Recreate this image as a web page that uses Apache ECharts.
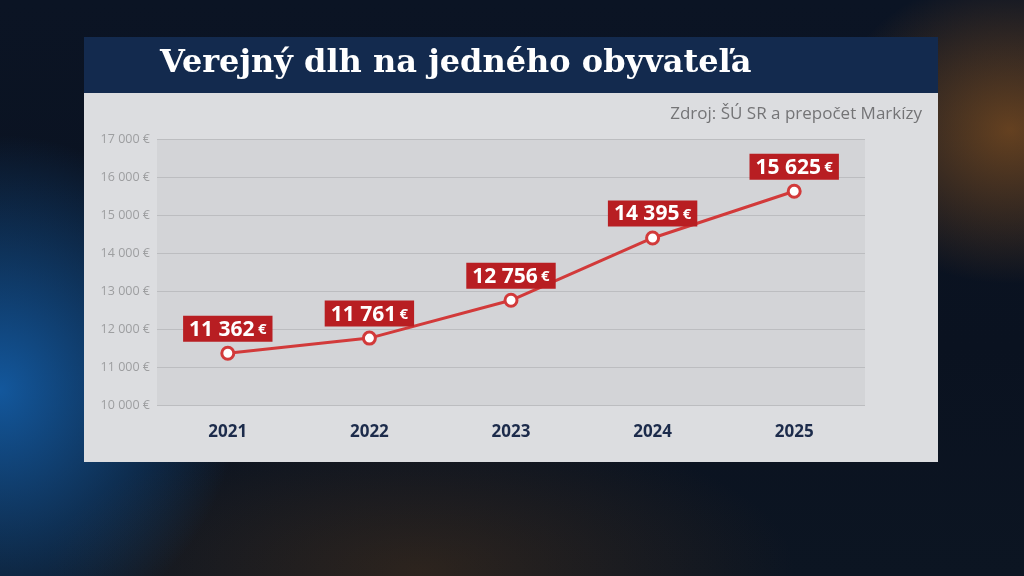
<!DOCTYPE html>
<html>
<head>
<meta charset="utf-8">
<script src="https://cdn.jsdelivr.net/npm/echarts@6/dist/echarts.min.js"></script>
<style>
html,body{margin:0;padding:0;width:1024px;height:576px;overflow:hidden;}
body{background:
 radial-gradient(ellipse 260px 220px at 1010px 130px, rgba(190,110,30,0.5), rgba(190,110,30,0) 70%),
 radial-gradient(ellipse 320px 340px at 0px 390px, rgba(20,95,170,0.9), rgba(20,90,160,0) 75%),
 radial-gradient(ellipse 500px 200px at 420px 570px, rgba(120,70,20,0.3), rgba(120,70,20,0) 75%),
 linear-gradient(180deg,#0b1424 0%,#0a1220 60%,#0c1522 100%);}
#c{width:1024px;height:576px;}
</style>
</head>
<body>
<div id="c"></div>
<script>
const years = ['2021','2022','2023','2024','2025'];
const debtPerCapita = [11362, 11761, 12756, 14395, 15625];
const yMin = 10000, yMax = 17000, yStep = 1000;
const titleText = 'Verejný dlh na jedného obyvateľa';
const sourceText = 'Zdroj: ŠÚ SR a prepočet Markízy';

function fmt(v){ return String(v).replace(/\B(?=(\d{3})+(?!\d))/g,' '); }

const chart = echarts.init(document.getElementById('c'), null, {renderer:'canvas'});
chart.setOption({
  backgroundColor:'transparent',
  animation:false,
  graphic:[
    {type:'rect', z:-10, shape:{x:84,y:93,width:854,height:369}, style:{fill:'#dcdde0'}},
    {type:'rect', z:-10, shape:{x:84,y:37,width:854,height:56}, style:{fill:'#132a4e'}},
    {type:'text', z:5, left:160, top:48, style:{text:titleText, fill:'#ffffff', font:'bold 32px "DejaVu Serif", serif'}},
    {type:'text', z:5, right:1024-922, top:106, style:{text:sourceText, fill:'#747476', font:'17px "Open Sans", sans-serif'}}
  ],
  grid:{left:157, right:159, top:139, bottom:171, show:true, backgroundColor:'#d3d4d7', borderWidth:0},
  xAxis:{
    type:'category', data:years, boundaryGap:true,
    axisLine:{show:false}, axisTick:{show:false},
    axisLabel:{color:'#1c2b4b', fontSize:17, fontWeight:'bold', fontFamily:'"Open Sans", sans-serif', margin:19}
  },
  yAxis:{
    type:'value', min:yMin, max:yMax, interval:yStep,
    axisLine:{show:false}, axisTick:{show:false},
    splitLine:{lineStyle:{color:'#bcbdc0', width:1}},
    axisLabel:{color:'#9d9ea0', fontSize:12.5, fontFamily:'"Open Sans", sans-serif', margin:7, formatter:v=>fmt(v)+' €'}
  },
  series:[{
    type:'line', data:debtPerCapita,
    lineStyle:{color:'#d23a3a', width:3},
    symbol:'circle', symbolSize:12,
    itemStyle:{color:'#ffffff', borderColor:'#d23a3a', borderWidth:3},
    label:{
      show:true, position:'top', distance:4,
      backgroundColor:'#b81e22', padding:[1,6,-1,6],
      formatter:p=>'{a|'+fmt(p.value)+'} {b|€}',
      rich:{
        a:{color:'#fff', fontSize:21, fontWeight:'bold', fontFamily:'"Open Sans", sans-serif', lineHeight:26},
        b:{color:'#fff', fontSize:15, fontWeight:'bold', fontFamily:'"Open Sans", sans-serif', lineHeight:26}
      }
    }
  }]
});
</script>
</body>
</html>
